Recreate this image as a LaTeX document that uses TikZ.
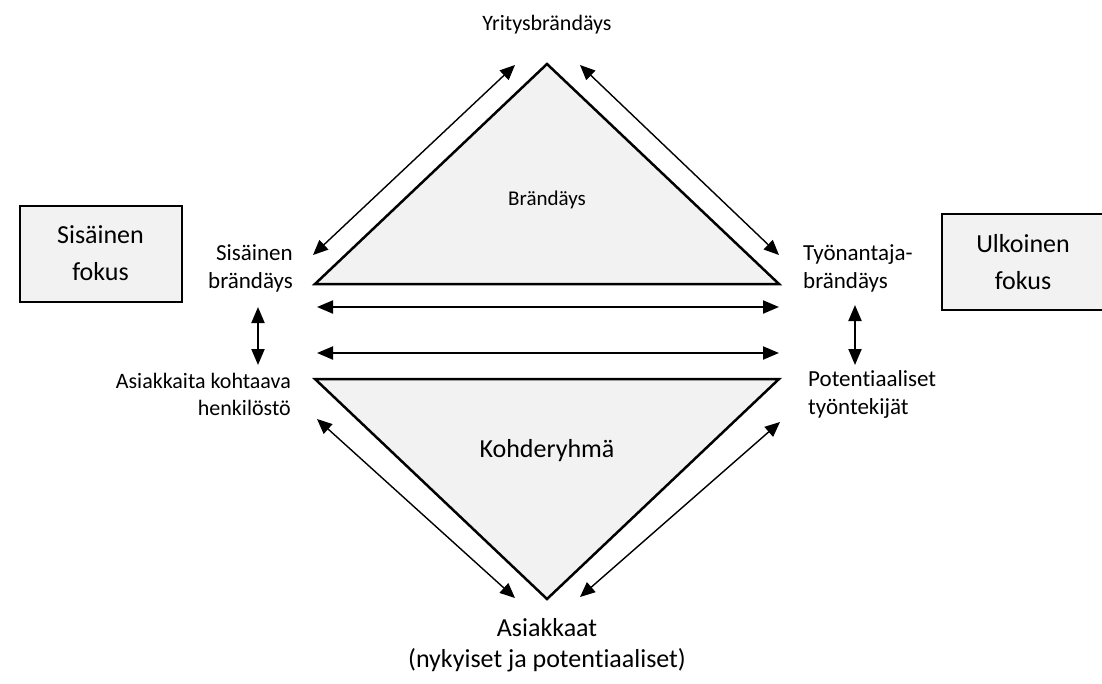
\documentclass[tikz,border=0pt]{standalone}
\usepackage{fontspec}
\setmainfont{Carlito}[Ligatures={NoCommon}]
\usetikzlibrary{arrows.meta}
\definecolor{panel}{HTML}{F2F2F2}
\tikzset{
  tri/.style={draw=black, fill=panel, line width=2.5pt, line join=miter},
  focusbox/.style={draw=black, fill=panel, line width=2pt, minimum width=162pt,
    minimum height=96pt, align=center, font=\fontsize{26}{37}\selectfont},
  link/.style={line width=1.4pt,
    {Triangle[length=15pt,width=13pt]}-{Triangle[length=15pt,width=13pt]}},
  bar/.style={line width=2pt,
    {Triangle[length=16pt,width=13pt]}-{Triangle[length=16pt,width=13pt]}},
  lab/.style={font=\fontsize{23}{28}\selectfont, inner sep=0pt},
  biglab/.style={font=\fontsize{26}{31}\selectfont, inner sep=0pt, align=center},
}
\begin{document}
\begin{tikzpicture}[x=1pt,y=-1pt]
  \useasboundingbox (0,0) rectangle (1102,683);

  % triangle corners
  \coordinate (tA) at (547,64);
  \coordinate (tL) at (315,284);
  \coordinate (tR) at (779,284);
  \coordinate (bL) at (315,379);
  \coordinate (bR) at (779,379);
  \coordinate (bA) at (547,599);

  \draw[tri] (tA) -- (tR) -- (tL) -- cycle;
  \draw[tri] (bL) -- (bR) -- (bA) -- cycle;

  % focus boxes
  \node[focusbox] (inner) at (100.5,253.5) {Sisäinen\\fokus};
  \node[focusbox] (outer) at (1023,262) {Ulkoinen\\fokus};

  % labels
  \node[lab, font=\fontsize{22}{26}\selectfont] (corp) at (547,25) {Yritysbrändäys};
  \node[font=\fontsize{21}{25}\selectfont, inner sep=0pt] (brand) at (547,200) {Brändäys};
  \node[lab, anchor=east, align=right] (intb) at (293,268) {Sisäinen\\brändäys};
  \node[lab, anchor=west, align=left] (empb) at (803,268) {Työnantaja-\\brändäys};
  \node[lab, font=\fontsize{22}{27}\selectfont, anchor=east, align=right] (staff) at (291,394) {Asiakkaita kohtaava\\henkilöstö};
  \node[lab, anchor=west, align=left] (cand) at (808,394) {Potentiaaliset\\työntekijät};
  \node[biglab] (target) at (547,451) {Kohderyhmä};
  \node[biglab] (cust) at (547,645) {Asiakkaat\\(nykyiset ja potentiaaliset)};

  % arrow end points
  \coordinate (d1a) at (515,65);  \coordinate (d1b) at (313,255);
  \coordinate (d2a) at (580,65);  \coordinate (d2b) at (779,255);
  \coordinate (d3a) at (317,419); \coordinate (d3b) at (515,598);
  \coordinate (d4a) at (580,597); \coordinate (d4b) at (780,422);
  \coordinate (h1a) at (317,307); \coordinate (h1b) at (779,307);
  \coordinate (h2a) at (317,353); \coordinate (h2b) at (779,353);
  \coordinate (v1a) at (258,307); \coordinate (v1b) at (258,365);
  \coordinate (v2a) at (855,305); \coordinate (v2b) at (855,365);

  \draw[link] (d1a) -- (d1b);
  \draw[link] (d2a) -- (d2b);
  \draw[link] (d3a) -- (d3b);
  \draw[link] (d4a) -- (d4b);
  \draw[bar] (h1a) -- (h1b);
  \draw[bar] (h2a) -- (h2b);
  \draw[bar] (v1a) -- (v1b);
  \draw[bar] (v2a) -- (v2b);
\end{tikzpicture}
\end{document}
